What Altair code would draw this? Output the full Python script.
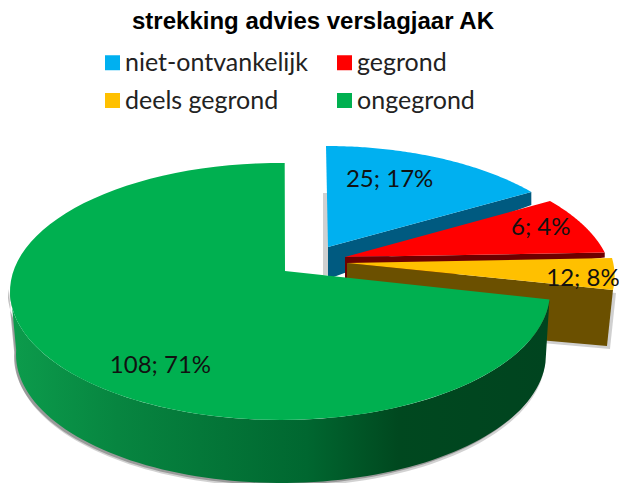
import math
import altair as alt

# --- data
categories = ["niet-ontvankelijk", "gegrond", "deels gegrond", "ongegrond"]
counts = [25, 6, 12, 108]
percents = [17, 4, 8, 71]
colors = ["#00B0F0", "#FF0000", "#FFC000", "#00B050"]
legend_order = ["niet-ontvankelijk", "deels gegrond", "gegrond", "ongegrond"]
legend_colors = ["#00B0F0", "#FFC000", "#FF0000", "#00B050"]

# --- 3-D view constants (page pixels), values only set the sweep of each slice
OX, OY = 8, 8
W, H = 611, 475
RX, RY = 268, 128.5
GRX = 270
view_start = [0, 50, 82, 93.6]
view_stretch = [0.839, 1.818, 0.5, 1.0385]
centres = [(326, 274.5), (344.7, 283.6), (346.6, 275.9), (280, 291.5)]
apexes = [(328, 247), (345, 257), (347, 263), (285, 271)]
label_nudge = [(-27, -1), (5, -9), (22, 5), (38, 5)]
wall_colors = ["#005A80", "#6E0000", "#6B5000"]
wall_drop = [[32, 13], [30, 5], [60, 56]]
wall_skew = [0, 0, -6]
DEPTH = 63
WALL_INSET = 5


def rad(d):
    return math.radians(d)


def on_ellipse(c, t, rx=RX, ry=RY):
    return (c[0] + rx * math.sin(rad(t)), c[1] - ry * math.cos(rad(t)))


def sweep(c, a, b, n=90, **kw):
    return [on_ellipse(c, a + (b - a) * i / n, **kw) for i in range(n + 1)]


def feature(points, **props):
    ring = [[x - OX, y - OY] for x, y in points]
    ring.append(ring[0])
    return {"type": "Feature", "properties": props,
            "geometry": {"type": "Polygon", "coordinates": [ring]}}


def shift(points, dx, dy):
    return [(x + dx, y + dy) for x, y in points]


def geo(features, **mark):
    data = alt.Data(values={"type": "FeatureCollection", "features": features},
                    format=alt.DataFormat(type="json", property="features"))
    return alt.Chart(data).mark_geoshape(stroke=None, **mark).project(
        type="identity", scale=1, translate=[0, 0])


total = sum(counts)
arcs = []
for i, v in enumerate(counts):
    true_sweep = 360 * v / total
    arcs.append((view_start[i], view_start[i] + true_sweep * view_stretch[i]))

layers = []
color_scale = alt.Scale(domain=legend_order, range=legend_colors)
legend = alt.Legend(
    title=None, orient="none", legendX=92, legendY=42, columns=2, symbolType="square",
    symbolSize=225, symbolStrokeWidth=0, symbolOpacity=1, labelFont="Lato", labelFontSize=25,
    labelColor="#222222", columnPadding=23, rowPadding=12, labelOffset=0, gridAlign="each",
    labelLimit=300, symbolOffset=0,
)


def top(i, **kw):
    ends = sweep(centres[i], *arcs[i], **kw)
    f = feature([apexes[i]] + ends, name=categories[i])
    return geo([f]).encode(
        color=alt.Color("properties.name:N", scale=color_scale, legend=legend))


def cut_wall(i, corner):
    a = apexes[i]
    return feature([a, corner, (corner[0] + wall_skew[i], corner[1] + wall_drop[i][1]),
                    (a[0], a[1] + wall_drop[i][0])])


# blue
blue_corner = on_ellipse(centres[0], arcs[0][1])
layers.append(geo([feature([(323, 193), (328, 193), (328, 275), (323, 275)])], fill="#8a8a8a", opacity=0.4))
layers.append(geo([cut_wall(0, blue_corner)], fill=wall_colors[0]))
layers.append(top(0))
# red
red_end = on_ellipse(centres[1], arcs[1][1])
layers.append(geo([cut_wall(1, red_end)], fill=wall_colors[1]))
layers.append(top(1))
# orange
orange_end = on_ellipse(centres[2], arcs[2][1])
brown = cut_wall(2, orange_end)
layers.append(geo([feature([(x + OX + 3, y + OY + 3) for x, y in brown["geometry"]["coordinates"][0][:-1]])],
                  fill="#8a8a8a", opacity=0.4))
layers.append(geo([brown], fill=wall_colors[2]))
layers.append(top(2))
# green
g = centres[3]
ga, gb = arcs[3]
low_c = (g[0] + 1, g[1] + DEPTH)
low_arc = sweep(low_c, ga, 272, rx=GRX - WALL_INSET, ry=RY)
up_arc = sweep(g, 272, ga, rx=GRX)
wall = low_arc + up_arc
layers.append(geo([feature(shift(wall, -1, 4))], fill="#6b6b6b", opacity=0.3))
layers.append(geo([feature(shift(wall, -2, 2))], fill="#6b6b6b", opacity=0.55))
gradient = alt.Gradient(
    gradient="linear", x1=0, x2=1, y1=0, y2=0,
    stops=[alt.GradientStop(offset=0, color="#0C9C4C"),
           alt.GradientStop(offset=0.2, color="#078540"),
           alt.GradientStop(offset=0.55, color="#006730"),
           alt.GradientStop(offset=0.72, color="#00481F"),
           alt.GradientStop(offset=1, color="#00441F")])
layers.append(geo([feature(wall)], fill=gradient))
layers.append(top(3, rx=GRX))

# labels
rows = []
for i, cat in enumerate(categories):
    mid = sum(arcs[i]) / 2
    x, y = on_ellipse(centres[i], mid, rx=RX * 0.8, ry=RY * 0.8)
    rows.append({"x": x + label_nudge[i][0] - OX, "y": y + label_nudge[i][1] - OY,
                 "t": f"{counts[i]}; {percents[i]}%"})
labels = alt.Chart(alt.Data(values=rows)).mark_text(
    font="Lato", fontSize=24, color="#111111", align="center", baseline="middle"
).encode(x=alt.X("x:Q", scale=None), y=alt.Y("y:Q", scale=None), text="t:N")
layers.append(labels)

chart = alt.layer(*layers).properties(
    width=W, height=H, padding=0, autosize=alt.AutoSizeParams(type="none"),
    title=alt.TitleParams("strekking advies verslagjaar AK", font="Liberation Sans", fontWeight="bold",
                          fontSize=24, color="#000000", anchor="start", offset=-26, dx=124, frame="group"),
).configure_view(stroke=None).resolve_scale(color="shared")
chart.save("out.html", embed_options={"renderer": "svg", "actions": False})
